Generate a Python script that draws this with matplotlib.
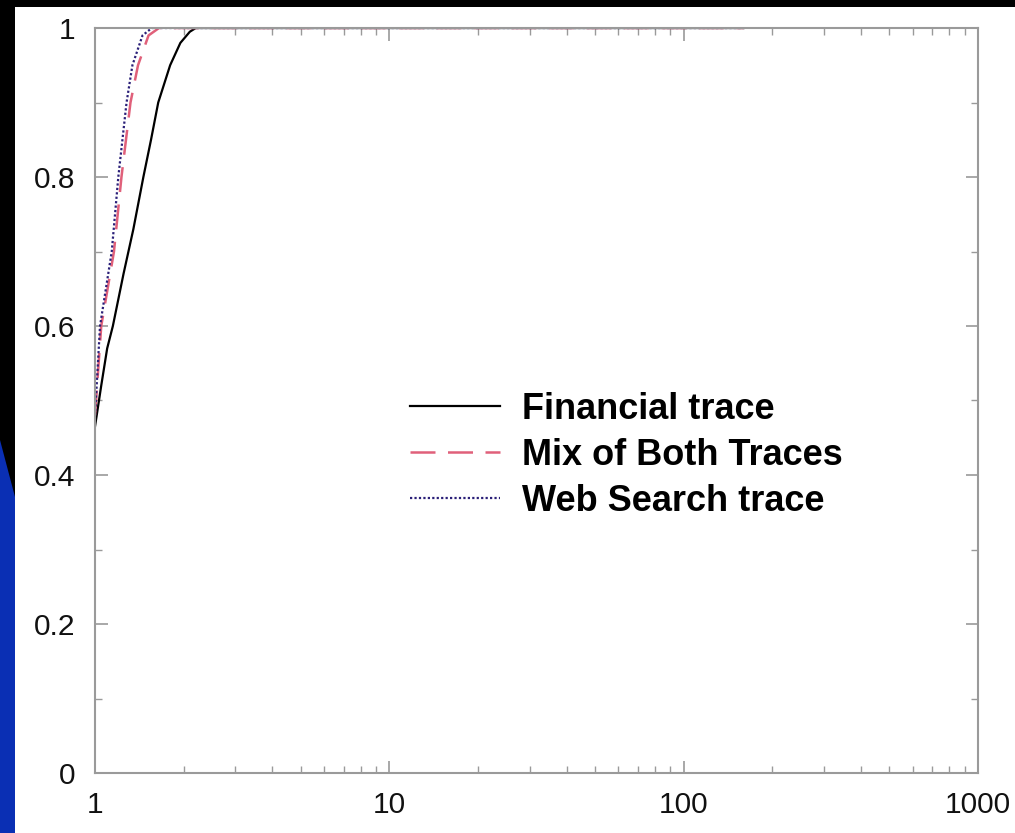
import numpy as np
import matplotlib.pyplot as plt
from matplotlib.patches import Rectangle, Polygon
from matplotlib.ticker import FixedLocator, FixedFormatter, LogLocator, MultipleLocator

# CDF samples read per trace (x on log scale)
fin_x = [1.0, 1.05, 1.10, 1.15, 1.25, 1.35, 1.46, 1.55, 1.64, 1.80, 1.95, 2.10, 2.20, 160]
fin_y = [0.465, 0.52, 0.57, 0.60, 0.67, 0.73, 0.80, 0.85, 0.90, 0.95, 0.98, 0.995, 1.0, 1.0]

mix_x = [1.0, 1.05, 1.16, 1.23, 1.32, 1.40, 1.52, 1.65, 160]
mix_y = [0.48, 0.60, 0.70, 0.80, 0.90, 0.95, 0.99, 1.0, 1.0]

web_x = [1.0, 1.04, 1.14, 1.20, 1.28, 1.34, 1.45, 1.56, 160]
web_y = [0.48, 0.60, 0.70, 0.80, 0.90, 0.95, 0.99, 1.0, 1.0]

labels = ["Financial trace", "Mix of Both Traces", "Web Search trace"]
xticks = [1, 10, 100, 1000]
yticks = [0, 0.2, 0.4, 0.6, 0.8, 1]

plt.rcParams['font.family'] = ['Liberation Sans', 'DejaVu Sans']

fig = plt.figure(figsize=(10.15, 8.33), dpi=100, facecolor='black')
W, H = 1015.0, 833.0

# white slide area and blue side strip, kept behind the axes
fig.patches.append(Rectangle((15 / W, 0), 1, (H - 7) / H, transform=fig.transFigure,
                             facecolor='white', edgecolor='none', zorder=-2))
fig.patches.append(Polygon([(0, 1 - 440 / H), (15 / W, 1 - 497 / H), (15 / W, 0), (0, 0)],
                           closed=True, transform=fig.transFigure,
                           facecolor='#0a2fb4', edgecolor='none', zorder=-2))

ax = fig.add_axes([95 / W, 1 - 773 / H, (978 - 95) / W, (773 - 28) / H])
ax.set_facecolor('none')

ax.plot(fin_x, fin_y, color='black', lw=1.6, linestyle='-', label=labels[0])
ax.plot(mix_x, mix_y, color='#e0607a', lw=1.8, linestyle=(0, (10, 5)), label=labels[1])
ax.plot(web_x, web_y, color='#2a1f78', lw=1.6, linestyle=(0, (1, 1)), label=labels[2])

ax.set_xscale('log')
ax.set_xlim(1, 1000)
ax.set_ylim(0, 1)

ax.xaxis.set_major_locator(FixedLocator(xticks))
ax.xaxis.set_major_formatter(FixedFormatter([str(t) for t in xticks]))
ax.xaxis.set_minor_locator(LogLocator(base=10, subs=np.arange(2, 10)))
ax.yaxis.set_major_locator(FixedLocator(yticks))
ax.yaxis.set_major_formatter(FixedFormatter(['%g' % t for t in yticks]))
ax.yaxis.set_minor_locator(MultipleLocator(0.1))

for s in ax.spines.values():
    s.set_color('#9a9a9a')
    s.set_linewidth(1.5)

ax.tick_params(which='both', direction='in', top=True, right=True, colors='#9a9a9a',
               labelcolor='#111111', labelsize=21.5)
ax.tick_params(which='major', length=9, width=1.2)
ax.tick_params(which='minor', length=5, width=1.0)
ax.tick_params(axis='x', pad=13)
ax.tick_params(axis='y', pad=14)

leg = ax.legend(loc='upper left', bbox_to_anchor=(381 / W, 1 - 363 / H),
                bbox_transform=fig.transFigure, frameon=False,
                prop={'weight': 'bold', 'size': 26}, handlelength=2.5,
                handletextpad=0.6, labelspacing=0.3, borderpad=0.3)
for t in leg.get_texts():
    t.set_color('black')

fig.savefig('out.png', dpi=100, facecolor='black')
